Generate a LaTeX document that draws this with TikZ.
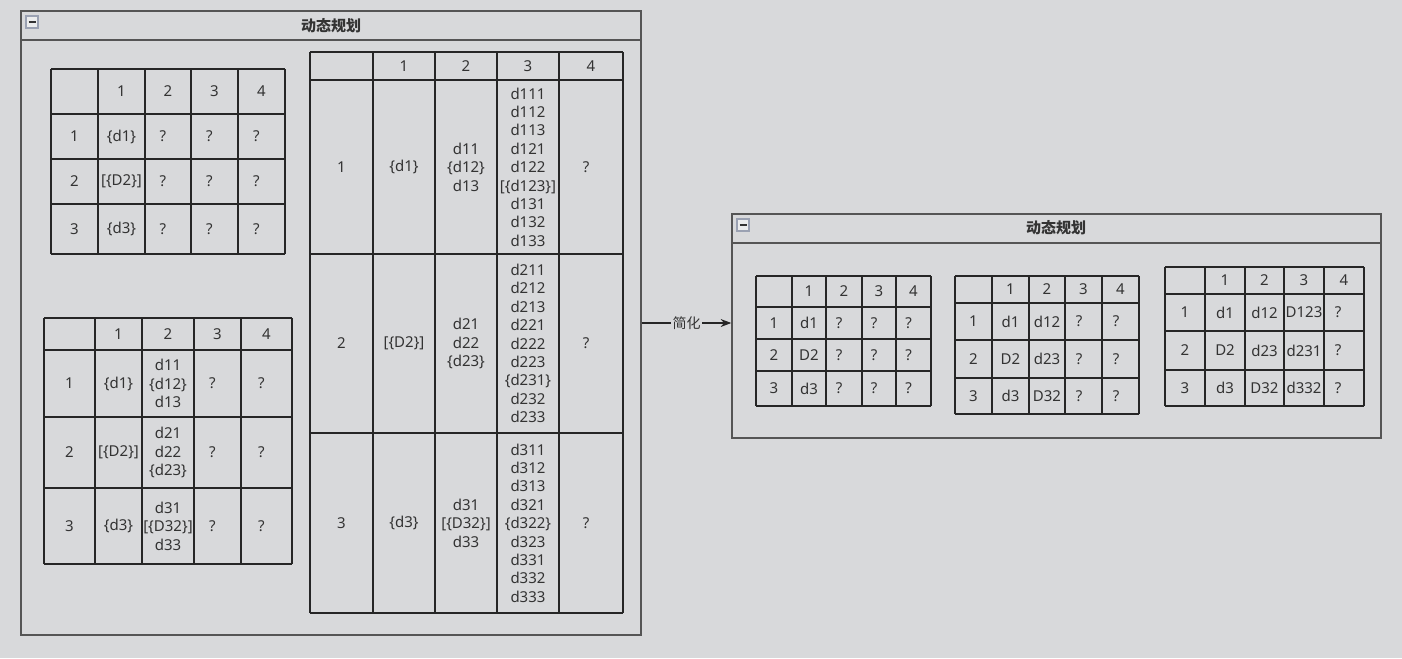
\documentclass[tikz,border=0pt]{standalone}
\usepackage{fontspec}
\setmainfont{Noto Sans}
\newfontfamily\cjk{Noto Sans CJK SC}
\usetikzlibrary{arrows.meta, positioning, fit}
\definecolor{canvas}{HTML}{D8D9DB}
\definecolor{ink}{HTML}{333333}
\definecolor{frame}{HTML}{555555}
\definecolor{iconline}{HTML}{9AA1B2}

\begin{document}
\begin{tikzpicture}[x=0.75pt, y=-0.75pt,
  grid/.style={draw=black!85, line width=0.8pt},
  panel/.style={draw=frame, line width=1.1pt, inner sep=0pt},
  cell/.style={text=ink, font=\fontsize{11.25}{13.8}\selectfont, align=center, inner sep=0pt},
  title/.style={text=ink, font=\cjk\bfseries\fontsize{11.25}{13.8}\selectfont}]
% Canvas
\fill[canvas] (0,0) rectangle (1402,658);
\useasboundingbox (0,0) rectangle (1402,658);

% Left panel
\node[panel, fit={(21,11) (641,635)}] (dpL) {};
\draw[panel] (21,40) -- (641,40);
\draw[iconline, fill=canvas!50!white, line width=0.8pt] (26,16) rectangle (38,28);
\draw[ink, line width=1.6pt] (28.5,22) -- (35.5,22);
\node[title] (dpLt) at (331,26) {动态规划};

% Table A
\foreach \gx in {51,98,145,191,238,285} \draw[grid] (\gx,69) -- (\gx,254);
\foreach \gy in {69,114,159,204,254} \draw[grid] (51,\gy) -- (285,\gy);
\foreach \cx/\txt [count=\c] in {121.5/1, 168/2, 214.5/3, 261.5/4}
  \node[cell] (A-0-\c) at (\cx,91.5) {\txt};
\foreach \cx/\txt [count=\c] in {74.5/1, 121.5/{\{d1\}}, 163/?, 209.5/?, 256.5/?}
  \node[cell] (A-1-\c) at (\cx,136.5) {\txt};
\foreach \cx/\txt [count=\c] in {74.5/2, 121.5/{[\{D2\}]}, 163/?, 209.5/?, 256.5/?}
  \node[cell] (A-2-\c) at (\cx,181.5) {\txt};
\foreach \cx/\txt [count=\c] in {74.5/3, 121.5/{\{d3\}}, 163/?, 209.5/?, 256.5/?}
  \node[cell] (A-3-\c) at (\cx,229) {\txt};

% Table B
\foreach \gx in {44,95,142,194,241,292} \draw[grid] (\gx,318) -- (\gx,564);
\foreach \gy in {318,350,417,488,564} \draw[grid] (44,\gy) -- (292,\gy);
\foreach \cx/\txt [count=\c] in {118.5/1, 168/2, 217.5/3, 266.5/4}
  \node[cell] (B-0-\c) at (\cx,334) {\txt};
\foreach \cx/\txt [count=\c] in {69.5/1, 118.5/{\{d1\}}, 168/{d11\\\{d12\}\\d13}, 212.5/?, 261.5/?}
  \node[cell] (B-1-\c) at (\cx,383.5) {\txt};
\foreach \cx/\txt [count=\c] in {69.5/2, 118.5/{[\{D2\}]}, 168/{d21\\d22\\\{d23\}}, 212.5/?, 261.5/?}
  \node[cell] (B-2-\c) at (\cx,452.5) {\txt};
\foreach \cx/\txt [count=\c] in {69.5/3, 118.5/{\{d3\}}, 168/{d31\\{}[\{D32\}]\\d33}, 212.5/?, 261.5/?}
  \node[cell] (B-3-\c) at (\cx,526) {\txt};

% Table C
\foreach \gx in {310,373,435,497,559,623} \draw[grid] (\gx,52) -- (\gx,613);
\foreach \gy in {52,80,254,433,613} \draw[grid] (310,\gy) -- (623,\gy);
\foreach \cx/\txt [count=\c] in {404/1, 466/2, 528/3, 591/4}
  \node[cell] (C-0-\c) at (\cx,66) {\txt};
\foreach \cx/\txt [count=\c] in {341.5/1, 404/{\{d1\}}, 466/{d11\\\{d12\}\\d13},
    528/{d111\\d112\\d113\\d121\\d122\\{}[\{d123\}]\\d131\\d132\\d133}, 586/?}
  \node[cell] (C-1-\c) at (\cx,167) {\txt};
\foreach \cx/\txt [count=\c] in {341.5/2, 404/{[\{D2\}]}, 466/{d21\\d22\\\{d23\}},
    528/{d211\\d212\\d213\\d221\\d222\\d223\\\{d231\}\\d232\\d233}, 586/?}
  \node[cell] (C-2-\c) at (\cx,343.5) {\txt};
\foreach \cx/\txt [count=\c] in {341.5/3, 404/{\{d3\}}, 466/{d31\\{}[\{D32\}]\\d33},
    528/{d311\\d312\\d313\\d321\\\{d322\}\\d323\\d331\\d332\\d333}, 586/?}
  \node[cell] (C-3-\c) at (\cx,523) {\txt};

% Right panel
\node[panel, fit={(732,214) (1381,438)}] (dpR) {};
\draw[panel] (732,243) -- (1381,243);
\draw[iconline, fill=canvas!50!white, line width=0.8pt] (737,219) rectangle (749,231);
\draw[ink, line width=1.6pt] (739.5,225) -- (746.5,225);
\node[title] (dpRt) at (1056,228) {动态规划};

% Table D
\foreach \gx in {756,792,826,862,896,931} \draw[grid] (\gx,276) -- (\gx,406);
\foreach \gy in {276,307,339,371,406} \draw[grid] (756,\gy) -- (931,\gy);
\foreach \cx/\txt [count=\c] in {809/1, 844/2, 879/3, 913.5/4}
  \node[cell] (D-0-\c) at (\cx,291.5) {\txt};
\foreach \cx/\txt [count=\c] in {774/1, 809/d1, 839/?, 874/?, 908.5/?}
  \node[cell] (D-1-\c) at (\cx,323) {\txt};
\foreach \cx/\txt [count=\c] in {774/2, 809/D2, 839/?, 874/?, 908.5/?}
  \node[cell] (D-2-\c) at (\cx,355) {\txt};
\foreach \cx/\txt [count=\c] in {774/3, 809/d3, 839/?, 874/?, 908.5/?}
  \node[cell] (D-3-\c) at (\cx,388.5) {\txt};

% Table E
\foreach \gx in {955,992,1029,1065,1102,1139} \draw[grid] (\gx,276) -- (\gx,414);
\foreach \gy in {276,303,340,378,414} \draw[grid] (955,\gy) -- (1139,\gy);
\foreach \cx/\txt [count=\c] in {1010.5/1, 1047/2, 1083.5/3, 1120.5/4}
  \node[cell] (E-0-\c) at (\cx,289.5) {\txt};
\foreach \cx/\txt [count=\c] in {973.5/1, 1010.5/d1, 1047/d12, 1079/?, 1116/?}
  \node[cell] (E-1-\c) at (\cx,321.5) {\txt};
\foreach \cx/\txt [count=\c] in {973.5/2, 1010.5/D2, 1047/d23, 1079/?, 1116/?}
  \node[cell] (E-2-\c) at (\cx,359) {\txt};
\foreach \cx/\txt [count=\c] in {973.5/3, 1010.5/d3, 1047/D32, 1079/?, 1116/?}
  \node[cell] (E-3-\c) at (\cx,396) {\txt};

% Table F
\foreach \gx in {1165,1205,1245,1284,1324,1364} \draw[grid] (\gx,267) -- (\gx,406);
\foreach \gy in {267,294,331,370,406} \draw[grid] (1165,\gy) -- (1364,\gy);
\foreach \cx/\txt [count=\c] in {1225/1, 1264.5/2, 1304/3, 1344/4}
  \node[cell] (F-0-\c) at (\cx,280.5) {\txt};
\foreach \cx/\txt [count=\c] in {1185/1, 1225/d1, 1264.5/d12, 1304/D123, 1338/?}
  \node[cell] (F-1-\c) at (\cx,312.5) {\txt};
\foreach \cx/\txt [count=\c] in {1185/2, 1225/D2, 1264.5/d23, 1304/d231, 1338/?}
  \node[cell] (F-2-\c) at (\cx,350.5) {\txt};
\foreach \cx/\txt [count=\c] in {1185/3, 1225/d3, 1264.5/D32, 1304/d332, 1338/?}
  \node[cell] (F-3-\c) at (\cx,388) {\txt};

% Simplify arrow
\draw[-{Stealth[length=8pt, width=6pt]}, line width=0.8pt, black!85]
  (dpL.east) -- (dpL.east -| dpR.west)
  node[midway, fill=canvas, text=ink, inner sep=1pt, font=\cjk\fontsize{10.5}{12}\selectfont] (simp) {简化};
\end{tikzpicture}
\end{document}
